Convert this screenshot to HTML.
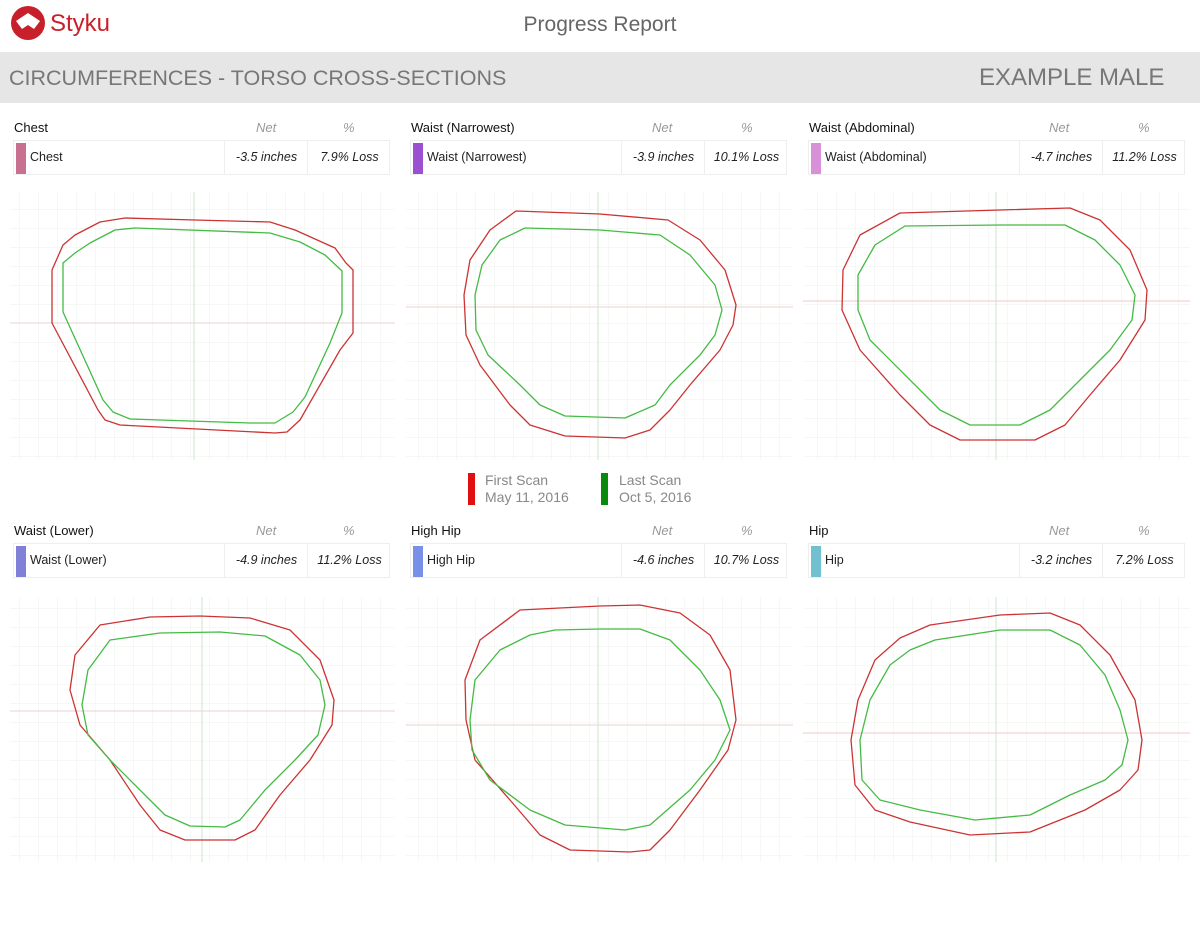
<!DOCTYPE html>
<html><head><meta charset="utf-8"><style>
body{margin:0;width:1200px;height:927px;background:#fff;font-family:"Liberation Sans",sans-serif;position:relative;overflow:hidden}
.a{position:absolute}
.t{font-size:13px;color:#111}
.h{font-size:13px;color:#999;font-style:italic}
.box{position:absolute;height:35px;border:1px solid #eee;box-sizing:border-box}
.c{position:absolute;top:0;height:33px;line-height:33px;font-size:12.5px;color:#222;text-align:center}
.bar{position:absolute;left:2px;top:2px;width:10px;height:31px}
</style></head><body>
<svg class="a" style="left:10px;top:5px" width="120" height="40">
<circle cx="18" cy="18" r="17" fill="#c8202a"/><path d="M6 16 L18 8 L30 16 L24 24 L18 20 L12 24Z" fill="#fff"/>
<text x="40" y="26" font-family="Liberation Sans" font-size="24" fill="#c8202a">Styku</text></svg>
<div class="a" style="left:0;width:1200px;top:13px;text-align:center;font-size:21px;color:#666">Progress Report</div>
<div class="a" style="left:0;top:52px;width:1200px;height:51px;background:#e6e6e6"></div>
<div class="a" style="left:9px;top:66px;font-size:21.5px;color:#777">CIRCUMFERENCES - TORSO CROSS-SECTIONS</div>
<div class="a" style="left:979px;top:64px;font-size:24px;color:#777">EXAMPLE MALE</div>

<svg class="a" style="left:0;top:0" width="1200" height="927">
<defs><pattern id="g" width="19" height="19" patternUnits="userSpaceOnUse"><path d="M0 0H19M0 0V19" stroke="#eef0ee" stroke-width="1" fill="none"/></pattern></defs>
<g fill="url(#g)"><rect x="10" y="192" width="385" height="268"/><rect x="406" y="192" width="387" height="268"/><rect x="803" y="192" width="387" height="268"/>
<rect x="10" y="597" width="385" height="265"/><rect x="406" y="597" width="387" height="265"/><rect x="803" y="597" width="387" height="265"/></g>
<g stroke-width="1"><path d="M10 323H395" stroke="#e8d0d0"/><path d="M194 192V460" stroke="#cfe6cf"/>
<path d="M406 307H793" stroke="#e8d0d0"/><path d="M598 192V460" stroke="#cfe6cf"/>
<path d="M803 301H1190" stroke="#f0c8c8"/><path d="M996 192V460" stroke="#cfe6cf"/>
<path d="M10 711H395" stroke="#e8d0d0"/><path d="M202 597V862" stroke="#cfe6cf"/>
<path d="M406 725H793" stroke="#e8d0d0"/><path d="M598 597V862" stroke="#cfe6cf"/>
<path d="M803 733H1190" stroke="#f0c8c8"/><path d="M996 597V862" stroke="#cfe6cf"/></g>
<g fill="none" stroke-width="1.3" stroke-linejoin="round">
<polygon stroke="#cc3333" points="52,270 63,245 75,235 100,222 125,218 195,220 270,222 295,230 335,248 346,263 353,270 353,333 340,350 300,420 287,432 275,433 120,425 105,420 98,410 52,323"/>
<polygon stroke="#44bb44" points="63,263 75,253 90,243 115,230 135,228 270,233 300,242 325,255 342,271 342,313 330,343 305,397 293,412 275,423 250,423 130,419 113,412 103,400 63,312"/>
<polygon stroke="#cc3333" points="516,211 600,214 668,220 700,240 725,270 736,305 733,325 720,350 690,385 670,410 650,430 625,438 565,436 530,425 510,405 480,365 466,335 464,295 470,260 490,230"/>
<polygon stroke="#44bb44" points="525,228 600,230 660,235 690,255 715,285 722,310 715,335 700,355 670,385 655,405 625,418 565,416 540,405 520,385 488,355 476,330 475,295 482,265 500,240"/>
<polygon stroke="#cc3333" points="900,213 1000,210 1070,208 1100,220 1130,250 1147,290 1145,320 1120,360 1090,395 1065,425 1035,440 960,440 930,425 900,395 860,350 842,310 843,270 860,235"/>
<polygon stroke="#44bb44" points="905,226 1000,225 1065,225 1095,240 1120,265 1135,295 1132,320 1110,350 1080,380 1050,410 1020,425 970,425 940,410 910,380 870,340 858,310 858,275 875,245"/>
<polygon stroke="#cc3333" points="100,625 150,617 200,616 250,618 290,630 320,660 334,700 332,725 310,760 280,795 255,830 235,840 185,840 160,830 140,805 110,760 80,725 70,690 75,655"/>
<polygon stroke="#44bb44" points="110,640 160,633 220,632 265,636 300,655 320,680 325,705 318,735 295,760 265,790 240,820 225,827 190,826 165,815 140,790 110,760 88,735 82,705 88,670"/>
<polygon stroke="#cc3333" points="520,610 600,606 640,605 680,613 710,635 730,670 736,720 728,750 700,790 670,830 650,850 630,852 570,850 540,835 510,800 475,760 466,720 465,680 480,640"/>
<polygon stroke="#44bb44" points="555,630 600,629 640,629 670,640 700,670 720,700 730,730 715,760 690,790 650,825 625,830 565,825 530,810 490,780 472,750 470,720 475,680 500,650 530,635"/>
<polygon stroke="#cc3333" points="930,625 1000,615 1050,613 1080,625 1110,655 1135,700 1142,740 1138,770 1120,790 1085,810 1030,832 970,835 910,822 875,810 855,785 851,740 858,700 875,660 900,638"/>
<polygon stroke="#44bb44" points="935,640 1000,630 1050,630 1080,645 1105,675 1120,710 1128,740 1122,765 1105,780 1070,795 1030,815 975,820 920,810 880,800 862,780 860,740 870,700 890,665 910,650"/>
</g>
<rect x="468" y="473" width="7" height="32" fill="#e01010"/><rect x="601" y="473" width="7" height="32" fill="#0a8a0a"/>
<g font-family="Liberation Sans" font-size="14" fill="#888"><text x="485" y="485">First Scan</text><text x="485" y="502">May 11, 2016</text>
<text x="619" y="485">Last Scan</text><text x="619" y="502">Oct 5, 2016</text></g>
</svg>

<div class="a t" style="left:14px;top:120px">Chest</div><div class="a h" style="left:256px;top:120px">Net</div><div class="a h" style="left:343px;top:120px">%</div>
<div class="box" style="left:13px;top:140px;width:377px"><div class="bar" style="background:#c87090"></div><div class="c" style="left:16px;text-align:left">Chest</div><div class="c" style="left:210px;width:83px;border-left:1px solid #eee;font-style:italic">-3.5 inches</div><div class="c" style="left:293px;width:83px;border-left:1px solid #eee;font-style:italic">7.9% Loss</div></div>

<div class="a t" style="left:411px;top:120px">Waist (Narrowest)</div><div class="a h" style="left:652px;top:120px">Net</div><div class="a h" style="left:741px;top:120px">%</div>
<div class="box" style="left:410px;top:140px;width:377px"><div class="bar" style="background:#9a50d0"></div><div class="c" style="left:16px;text-align:left">Waist (Narrowest)</div><div class="c" style="left:210px;width:83px;border-left:1px solid #eee;font-style:italic">-3.9 inches</div><div class="c" style="left:293px;width:83px;border-left:1px solid #eee;font-style:italic">10.1% Loss</div></div>

<div class="a t" style="left:809px;top:120px">Waist (Abdominal)</div><div class="a h" style="left:1049px;top:120px">Net</div><div class="a h" style="left:1138px;top:120px">%</div>
<div class="box" style="left:808px;top:140px;width:377px"><div class="bar" style="background:#d890d8"></div><div class="c" style="left:16px;text-align:left">Waist (Abdominal)</div><div class="c" style="left:210px;width:83px;border-left:1px solid #eee;font-style:italic">-4.7 inches</div><div class="c" style="left:293px;width:83px;border-left:1px solid #eee;font-style:italic">11.2% Loss</div></div>

<div class="a t" style="left:14px;top:523px">Waist (Lower)</div><div class="a h" style="left:256px;top:523px">Net</div><div class="a h" style="left:343px;top:523px">%</div>
<div class="box" style="left:13px;top:543px;width:377px"><div class="bar" style="background:#8080d8"></div><div class="c" style="left:16px;text-align:left">Waist (Lower)</div><div class="c" style="left:210px;width:83px;border-left:1px solid #eee;font-style:italic">-4.9 inches</div><div class="c" style="left:293px;width:83px;border-left:1px solid #eee;font-style:italic">11.2% Loss</div></div>

<div class="a t" style="left:411px;top:523px">High Hip</div><div class="a h" style="left:652px;top:523px">Net</div><div class="a h" style="left:741px;top:523px">%</div>
<div class="box" style="left:410px;top:543px;width:377px"><div class="bar" style="background:#7890e8"></div><div class="c" style="left:16px;text-align:left">High Hip</div><div class="c" style="left:210px;width:83px;border-left:1px solid #eee;font-style:italic">-4.6 inches</div><div class="c" style="left:293px;width:83px;border-left:1px solid #eee;font-style:italic">10.7% Loss</div></div>

<div class="a t" style="left:809px;top:523px">Hip</div><div class="a h" style="left:1049px;top:523px">Net</div><div class="a h" style="left:1138px;top:523px">%</div>
<div class="box" style="left:808px;top:543px;width:377px"><div class="bar" style="background:#70c0d0"></div><div class="c" style="left:16px;text-align:left">Hip</div><div class="c" style="left:210px;width:83px;border-left:1px solid #eee;font-style:italic">-3.2 inches</div><div class="c" style="left:293px;width:83px;border-left:1px solid #eee;font-style:italic">7.2% Loss</div></div>
</body></html>
